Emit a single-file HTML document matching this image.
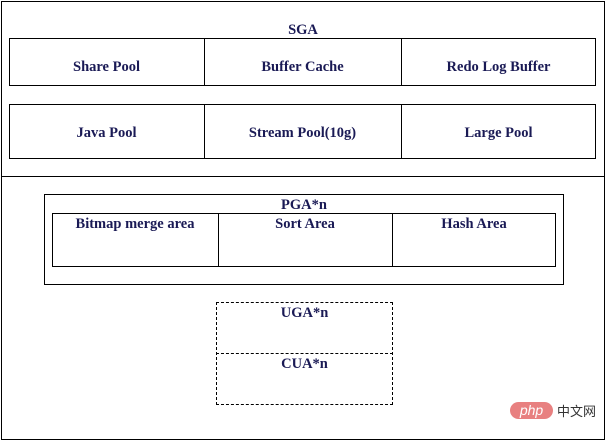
<!DOCTYPE html>
<html><head><meta charset="utf-8"><style>
body{margin:0;width:609px;height:442px;background:#fff;position:relative;overflow:hidden;font-family:"Liberation Serif",serif;font-weight:bold;font-size:14.5px;color:#1a1a55}
div{position:absolute;box-sizing:border-box}
.b{border:1px solid #000}
.t{text-align:center;white-space:nowrap}
.d{border:1px dashed #000}
</style></head><body>
<div class="b" style="left:1px;top:1px;width:604px;height:439px"></div>
<div style="left:1px;top:176px;width:604px;height:1px;background:#000"></div>
<div class="t" style="left:1px;width:604px;top:22px">SGA</div>
<div class="b" style="left:9px;top:38px;width:587px;height:48px"></div>
<div style="left:204px;top:38px;width:1px;height:48px;background:#000"></div>
<div style="left:401px;top:38px;width:1px;height:48px;background:#000"></div>
<div class="t" style="left:9px;width:195px;top:59px">Share Pool</div>
<div class="t" style="left:204px;width:197px;top:59px">Buffer Cache</div>
<div class="t" style="left:401px;width:195px;top:59px">Redo Log Buffer</div>
<div class="b" style="left:9px;top:104px;width:587px;height:55px"></div>
<div style="left:204px;top:104px;width:1px;height:55px;background:#000"></div>
<div style="left:401px;top:104px;width:1px;height:55px;background:#000"></div>
<div class="t" style="left:9px;width:195px;top:125px">Java Pool</div>
<div class="t" style="left:204px;width:197px;top:125px">Stream Pool(10g)</div>
<div class="t" style="left:401px;width:195px;top:125px">Large Pool</div>
<div class="b" style="left:44px;top:194px;width:520px;height:91px"></div>
<div class="t" style="left:44px;width:520px;top:197px">PGA*n</div>
<div class="b" style="left:52px;top:213px;width:504px;height:54px"></div>
<div style="left:218px;top:213px;width:1px;height:54px;background:#000"></div>
<div style="left:392px;top:213px;width:1px;height:54px;background:#000"></div>
<div class="t" style="left:52px;width:166px;top:216px">Bitmap merge area</div>
<div class="t" style="left:218px;width:174px;top:216px">Sort Area</div>
<div class="t" style="left:392px;width:164px;top:216px">Hash Area</div>
<div class="d" style="left:216px;top:302px;width:177px;height:103px"></div>
<div style="left:216px;top:353px;width:177px;height:0;border-top:1px dashed #000"></div>
<div class="t" style="left:216px;width:177px;top:305px">UGA*n</div>
<div class="t" style="left:216px;width:177px;top:356px">CUA*n</div>
<div style="left:510px;top:402px;width:43px;height:17px;border-radius:9px;background:#e88080;color:#fff;font-family:'Liberation Sans',sans-serif;font-style:italic;font-weight:normal;font-size:14px;line-height:16px;text-align:center">php</div>
<div style="left:557px;top:402px;font-family:'Noto Sans CJK SC',sans-serif;font-weight:normal;font-size:13px;color:#333;line-height:17px">中文网</div>
</body></html>
